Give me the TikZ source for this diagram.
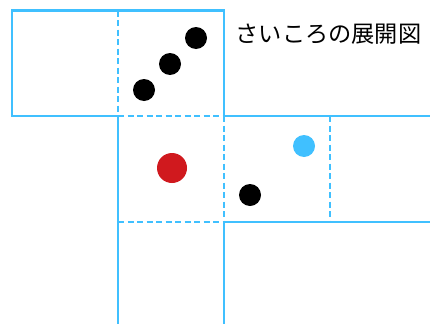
\documentclass[tikz,border=0pt]{standalone}
\usepackage{fontspec}
\newfontfamily\cjk{Noto Sans CJK JP}
\definecolor{lineblue}{RGB}{64,192,255}
\definecolor{dotred}{RGB}{208,25,30}
\begin{document}
\begin{tikzpicture}[x=1pt,y=-1pt,
  solidline/.style={draw=lineblue,line width=2.2pt},
  dashline/.style={draw=lineblue,line width=2.2pt,dash pattern=on 6pt off 3.5pt},
  dot/.style={circle,inner sep=0pt,minimum size=22pt,fill=black}]
\useasboundingbox (0,0) rectangle (430,324);
% solid lines
\draw[solidline] (118,10.5) -- (12,10.5) -- (12,116) -- (118,116);
\draw[solidline] (118,10.5) -- (224,10.5) -- (224,116) -- (430,116);
\draw[solidline] (118,116) -- (118,324);
\draw[solidline] (224,222) -- (224,324);
\draw[solidline] (224,222) -- (430,222);
% dashed lines
\draw[dashline] (118,10.5) -- (118,116);
\draw[dashline] (118,116) -- (224,116);
\draw[dashline] (224,116) -- (224,222);
\draw[dashline] (118,222) -- (224,222);
\draw[dashline] (330,116) -- (330,222);
% dots
\node[dot] (d1) at (196,38) {};
\node[dot] (d2) at (170,64) {};
\node[dot] (d3) at (144,90) {};
\node[dot,fill=dotred,minimum size=30pt] (r) at (172,168) {};
\node[dot,fill=lineblue] (b) at (304,146) {};
\node[dot] (d4) at (250,195) {};
% title
\node[font=\cjk\fontsize{23.2}{24}\selectfont,inner sep=0pt] (title) at (328.5,34) {さいころの展開図};
\end{tikzpicture}
\end{document}
